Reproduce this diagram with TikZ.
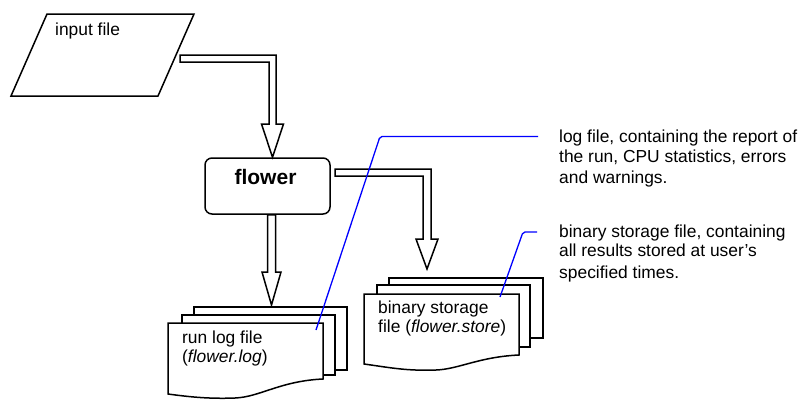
\documentclass[tikz,border=0pt]{standalone}
\usepackage{fontspec}
\setmainfont{Liberation Sans}
\usetikzlibrary{calc}
\begin{document}
\begin{tikzpicture}[x=1pt,y=-1pt,
  shapeline/.style={draw=black, line width=1.5pt, fill=white, line join=miter},
  blockarrow/.style={draw=black, line width=1.5pt, fill=white, line join=miter},
  callout/.style={draw=blue, line width=1.3pt, rounded corners=2pt},
  txt/.style={inner sep=0pt, anchor=base west, font=\fontsize{17.4}{20}\selectfont},
]
\useasboundingbox (0,0) rectangle (799,399);

% input parallelogram
\draw[shapeline] (47,14) coordinate (inTL) -- (194,14) coordinate (inTR)
  -- (158,96) coordinate (inBR) -- (11,96) coordinate (inBL) -- cycle;
\node[txt] (inputlbl) at (55,35) {input file};

% flower box
\node[draw, line width=1.5pt, rounded corners=7pt, minimum width=125pt,
  minimum height=56pt, inner sep=0pt] (flower) at (267.5,186) {};
\node[inner sep=0pt, anchor=base, font=\fontsize{21}{24}\selectfont\bfseries]
  (flowerlbl) at (265.5,184) {flower};

% arrow input -> flower
\coordinate (a1s) at (180,58.5);
\draw[blockarrow] (a1s |- 0,55) -- (276,55) -- (276,124) -- (283.5,124)
  -- (flower.north -| 272.5,0) -- (261.5,124) -- (269,124) -- (269,62)
  -- (a1s |- 0,62) -- cycle;

% arrow flower -> binary
\draw[blockarrow] (335,169) -- (431,169) -- (431,239) -- (438,239)
  -- (427,269) coordinate (a2e) -- (416,239) -- (423,239) -- (423,176)
  -- (335,176) -- cycle;

% arrow flower -> run log
\draw[blockarrow] (flower.south -| 267.5,0) -- (267.5,272) -- (262,272)
  -- (271.5,305) coordinate (a3e) -- (281,272) -- (275.5,272)
  -- (flower.south -| 275.5,0) -- cycle;

% run log stack
\draw[shapeline] (194,307) rectangle (347,370);
\draw[shapeline] (182,315) rectangle (335,375);
\draw[shapeline] (168,323) coordinate (logTL) -- (323,323) -- (323,379)
  .. controls (280,381) and (260,397) .. (235,398)
  .. controls (210,399) and (190,397) .. (168,394) -- cycle;
\node[txt] (loglbl1) at (182,343) {run log file};
\node[txt] (loglbl2) at (182,362) {(\textit{flower.log})};

% binary stack
\draw[shapeline] (389,278) rectangle (543,338);
\draw[shapeline] (377,285) rectangle (530,347);
\draw[shapeline] (364,294) coordinate (binTL) -- (519,294) -- (519,355)
  .. controls (476,357) and (456,371) .. (431,370)
  .. controls (406,371) and (386,367) .. (364,364) -- cycle;
\node[txt] (binlbl1) at (378,313) {binary storage};
\node[txt] (binlbl2) at (378,332) {file (\textit{flower.store})};

% callout texts
\node[txt] (c1a) at (559,142) {log file, containing the report of};
\node[txt] (c1b) at (559,162) {the run, CPU statistics, errors};
\node[txt] (c1c) at (559,183) {and warnings.};
\node[txt] (c2a) at (559,237) {binary storage file, containing};
\node[txt] (c2b) at (559,256) {all results stored at user’s};
\node[txt] (c2c) at (559,278) {specified times.};

% callout lines
\coordinate (c1p) at (316,330);
\coordinate (c1e) at (538,136.5);
\draw[callout] (c1p) -- (380,136.5) -- (c1e);
\coordinate (c2p) at (500,297);
\coordinate (c2e) at (537,232);
\draw[callout] (c2p) -- (523,232) -- (c2e);
\end{tikzpicture}
\end{document}
